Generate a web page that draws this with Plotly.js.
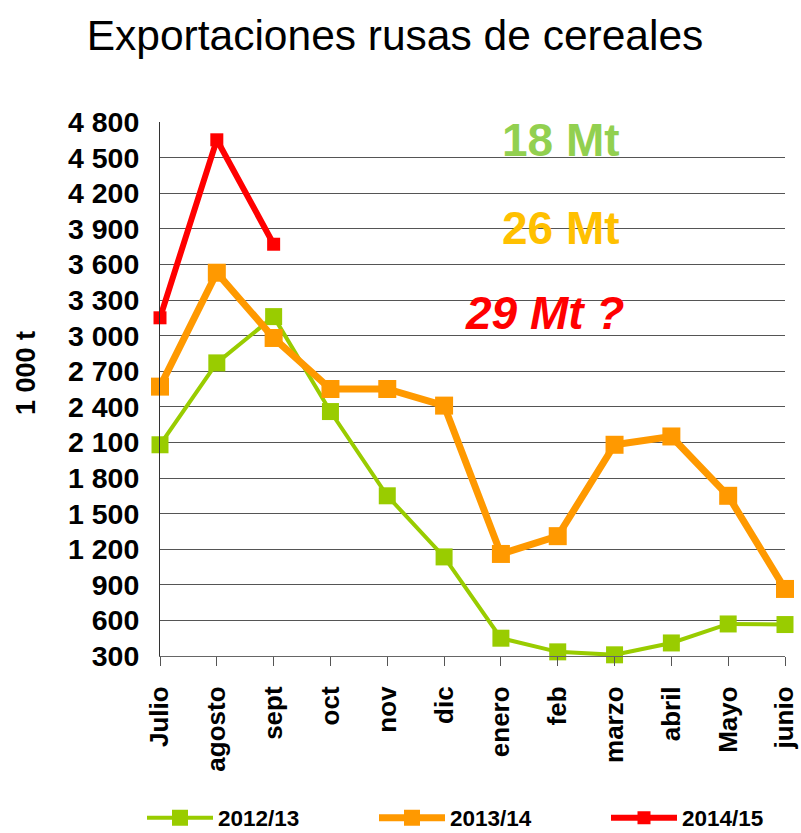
<!DOCTYPE html>
<html>
<head>
<meta charset="utf-8">
<script src="https://cdn.plot.ly/plotly-3.0.1.min.js"></script>
<style>html,body{margin:0;padding:0;background:#fff;}#chart{width:801px;height:833px;}</style>
</head>
<body>
<div id="chart"></div>
<script>
const months = ["Julio","agosto","sept","oct","nov","dic","enero","feb","marzo","abril","Mayo","junio"];
const s2012 = [2080, 2770, 3160, 2360, 1650, 1135, 450, 335, 310, 410, 570, 565];
const s2013 = [2570, 3530, 2980, 2550, 2550, 2410, 1160, 1310, 2080, 2150, 1650, 865];
const s2014 = [3150, 4650, 3770];
const yTicks = [300, 600, 900, 1200, 1500, 1800, 2100, 2400, 2700, 3000, 3300, 3600, 3900, 4200, 4500, 4800];
const yTickText = yTicks.map(v => v >= 1000 ? Math.floor(v/1000) + " " + String(v%1000).padStart(3,"0") : String(v));

const F = "Liberation Sans, Arial, sans-serif";

const traces = [
  {x: months, y: s2012, name: "2012/13", mode: "lines+markers", cliponaxis: false, legend: "legend",
   line: {color: "#99CC00", width: 4}, marker: {symbol: "square", size: 17, color: "#99CC00"}},
  {x: months.slice(0, s2013.length), y: s2013, name: "2013/14", mode: "lines+markers", cliponaxis: false, legend: "legend2",
   line: {color: "#FF9900", width: 7}, marker: {symbol: "square", size: 18, color: "#FF9900"}},
  {x: months.slice(0, s2014.length), y: s2014, name: "2014/15", mode: "lines+markers", cliponaxis: false, legend: "legend3",
   line: {color: "#FF0000", width: 6}, marker: {symbol: "square", size: 13, color: "#FF0000"}}
];

function leg(px) {
  return {orientation: "h", xref: "container", yref: "container", x: px/801, y: 15/833,
          xanchor: "left", yanchor: "middle", itemwidth: 66, bgcolor: "rgba(0,0,0,0)",
          font: {family: F, size: 22.5, weight: "bold", color: "#000"}};
}

const layout = {
  width: 801, height: 833,
  margin: {l: 160, r: 16, t: 122, b: 177},
  paper_bgcolor: "#fff", plot_bgcolor: "#fff",
  font: {family: F, color: "#000"},
  title: {text: "Exportaciones rusas de cereales", font: {family: F, size: 42.5, color: "#000"},
          x: 395/801, xanchor: "center", xref: "container", y: 1 - 35/833, yanchor: "middle", yref: "container"},
  xaxis: {type: "category", categoryarray: months, range: [0, 11], tickangle: -90,
          tickfont: {family: F, size: 26, weight: "bold", color: "#000"},
          ticks: "outside", ticklen: 9, tickcolor: "#555", showgrid: false,
          showline: true, linecolor: "#666", linewidth: 1, ticklabelstandoff: 10},
  yaxis: {range: [300, 4800], tickvals: yTicks, ticktext: yTickText,
          tickfont: {family: F, size: 28.5, weight: "bold", color: "#000"},
          showgrid: true, gridcolor: "#555", gridwidth: 1,
          showline: true, linecolor: "#333", linewidth: 1, ticks: "", ticklabelstandoff: 14,
          zeroline: false},
  showlegend: true,
  legend: leg(142),
  legend2: leg(374),
  legend3: leg(606),
  shapes: [{type: "rect", xref: "paper", yref: "paper", x0: (429-160)/625, x1: (641-160)/625,
            y0: (656-345)/534, y1: (656-115)/534, fillcolor: "#fff", line: {width: 0}, layer: "between"}],
  annotations: [
    {text: "1 000 t", xref: "paper", yref: "paper", x: (26-160)/625, y: (656-373)/534, xanchor: "center", yanchor: "middle",
     textangle: -90, showarrow: false, font: {family: F, size: 27, weight: "bold", color: "#000"}},
    {text: "18 Mt", xref: "paper", yref: "paper", x: (622-160)/625, y: (656-140)/534, xanchor: "right", yanchor: "middle",
     showarrow: false, font: {family: F, size: 46, weight: "bold", color: "#92D050"}},
    {text: "26 Mt", xref: "paper", yref: "paper", x: (622-160)/625, y: (656-228)/534, xanchor: "right", yanchor: "middle",
     showarrow: false, font: {family: F, size: 46, weight: "bold", color: "#FFC000"}},
    {text: "29 Mt ?", xref: "paper", yref: "paper", x: (626-160)/625, y: (656-313)/534, xanchor: "right", yanchor: "middle",
     showarrow: false, font: {family: F, size: 46, weight: "bold", style: "italic", color: "#FF0000"}}
  ]
};

Plotly.newPlot("chart", traces, layout, {displayModeBar: false, staticPlot: true});
</script>
</body>
</html>
